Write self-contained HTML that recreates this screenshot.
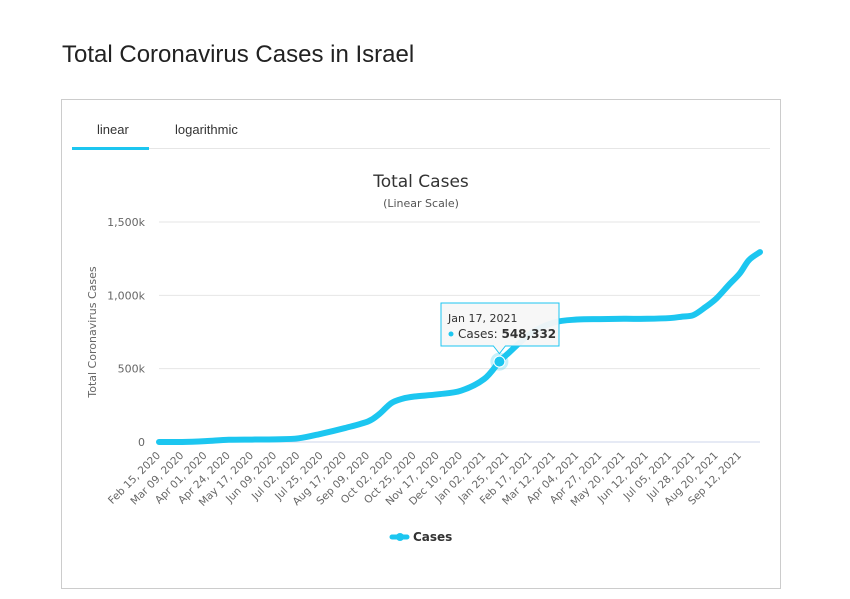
<!DOCTYPE html>
<html><head><meta charset="utf-8"><style>
body{margin:0;background:#fff;font-family:"Liberation Sans",sans-serif;}
#wrap{position:relative;width:850px;height:599px;overflow:hidden}
h1{position:absolute;left:62px;top:41px;margin:0;font-size:24px;font-weight:normal;color:#222;}
#box{position:absolute;left:61px;top:99px;width:718px;height:488px;border:1px solid #ccc}
.tab{position:absolute;top:22px;font-size:13px;color:#333}
</style></head><body><div id="wrap">
<h1>Total Coronavirus Cases in Israel</h1>
<div id="box">
<div class="tab" style="left:35px">linear</div>
<div class="tab" style="left:113px">logarithmic</div>
<div style="position:absolute;left:10px;top:48px;width:698px;height:1px;background:#e6e6e6"></div>
<div style="position:absolute;left:10px;top:47px;width:77px;height:3px;background:#1cc6f0"></div>
</div>
<svg id="chart" width="850" height="599" style="position:absolute;left:0;top:0"></svg>
</div>
<script>
const labels=["Feb 15, 2020","Mar 09, 2020","Apr 01, 2020","Apr 24, 2020","May 17, 2020","Jun 09, 2020","Jul 02, 2020","Jul 25, 2020","Aug 17, 2020","Sep 09, 2020","Oct 02, 2020","Oct 25, 2020","Nov 17, 2020","Dec 10, 2020","Jan 02, 2021","Jan 25, 2021","Feb 17, 2021","Mar 12, 2021","Apr 04, 2021","Apr 27, 2021","May 20, 2021","Jun 12, 2021","Jul 05, 2021","Jul 28, 2021","Aug 20, 2021","Sep 12, 2021"];
const dayIdx=[0,23,46,69,92,115,138,161,184,207,218,230,241,253,276,299,322,337,345,368,391,414,437,460,483,506,518,529,541,552,564,575,584,595];
const cases=[0,0.1,6,15,16.6,18,25,57,95,140,190,265,295,310,325,350,430,548,600,740,815,835,838,840,840,845,855,865,920,980,1070,1150,1240,1295];
const yTicks=[0,500,1000,1500];
const yTickLabels=["0","500k","1,000k","1,500k"];
const hlIdx=17;
const svg=document.getElementById('chart');const NS='http://www.w3.org/2000/svg';
const X0=159,X1=760,Y0=442,Y1=222,DMAX=595,VMAX=1500;
const x=d=>X0+(X1-X0)*d/DMAX, y=v=>Y0-(Y0-Y1)*v/VMAX;
function mk(t,a,p){const e=document.createElementNS(NS,t);for(const k in a)e.setAttribute(k,a[k]);(p||svg).appendChild(e);return e;}
let e;
e=mk('text',{x:421,y:187,'text-anchor':'middle','font-size':17,fill:'#333','font-family':'DejaVu Sans, sans-serif'});e.textContent='Total Cases';


e=mk('text',{x:421,y:207,'text-anchor':'middle','font-size':11,fill:'#555','font-family':'DejaVu Sans, sans-serif'});e.textContent='(Linear Scale)';


yTicks.forEach((v,i)=>{
 e=mk('line',{x1:X0,x2:X1,y1:y(v),y2:y(v),stroke:i==0?'#ccd6eb':'#e6e6e6','stroke-width':1});
 
 
 e=mk('text',{x:145,y:y(v)+4,'text-anchor':'end','font-size':11,fill:'#666','font-family':'DejaVu Sans, sans-serif'});e.textContent=yTickLabels[i];
 
 
});
e=mk('text',{x:0,y:0,'text-anchor':'middle','font-size':11,fill:'#666','font-family':'DejaVu Sans, sans-serif',transform:'translate(96,332) rotate(-90)'});e.textContent='Total Coronavirus Cases';


labels.forEach((l,i)=>{
 const px=x(i*23)+2;
 e=mk('text',{x:0,y:0,'text-anchor':'end','font-size':10.5,fill:'#666','font-family':'DejaVu Sans, sans-serif',transform:`translate(${px},456) rotate(-45)`});e.textContent=l;
 
 
});
const pts=dayIdx.map((d,i)=>[x(d),y(cases[i])]);
let dstr=`M${pts[0][0]},${pts[0][1]}`;
for(let i=0;i<pts.length-1;i++){const p0=pts[Math.max(0,i-1)],p1=pts[i],p2=pts[i+1],p3=pts[Math.min(pts.length-1,i+2)];
 const c1=[p1[0]+(p2[0]-p0[0])/6,p1[1]+(p2[1]-p0[1])/6],c2=[p2[0]-(p3[0]-p1[0])/6,p2[1]-(p3[1]-p1[1])/6];
 dstr+=`C${c1[0]},${c1[1]} ${c2[0]},${c2[1]} ${p2[0]},${p2[1]}`;}
e=mk('path',{d:dstr,fill:'none',stroke:'#1cc6f0','stroke-width':6,'stroke-linejoin':'round','stroke-linecap':'round'});


const hx=x(dayIdx[hlIdx]),hy=y(cases[hlIdx]);
e=mk('circle',{cx:hx,cy:hy,r:9,fill:'#1cc6f0','fill-opacity':0.25});


e=mk('circle',{cx:hx,cy:hy,r:5.5,fill:'#1cc6f0',stroke:'#fff','stroke-width':1});


const g=mk('g',{});


mk('path',{d:`M441,303 H559 V346 H${hx+6} L${hx},${hy-8} L${hx-6},346 H441 Z`,fill:'#f7f7f7','fill-opacity':0.95,stroke:'#1cc6f0','stroke-width':1},g);
e=mk('text',{x:448,y:322,'font-size':11,fill:'#333','font-family':'DejaVu Sans, sans-serif'},g);e.textContent='Jan 17, 2021';
mk('circle',{cx:451,cy:334,r:2.5,fill:'#1cc6f0'},g);
e=mk('text',{x:458,y:338,'font-size':12,fill:'#333','font-family':'DejaVu Sans, sans-serif'},g);e.innerHTML='Cases: <tspan font-weight="bold">548,332</tspan>';
const lg=mk('g',{});


mk('line',{x1:392,x2:407,y1:537,y2:537,stroke:'#1cc6f0','stroke-width':5,'stroke-linecap':'round'},lg);
mk('circle',{cx:400,cy:537,r:4,fill:'#1cc6f0'},lg);
e=mk('text',{x:413,y:541,'font-size':12,'font-weight':'bold',fill:'#333','font-family':'DejaVu Sans, sans-serif'},lg);e.textContent='Cases';
</script></body></html>
